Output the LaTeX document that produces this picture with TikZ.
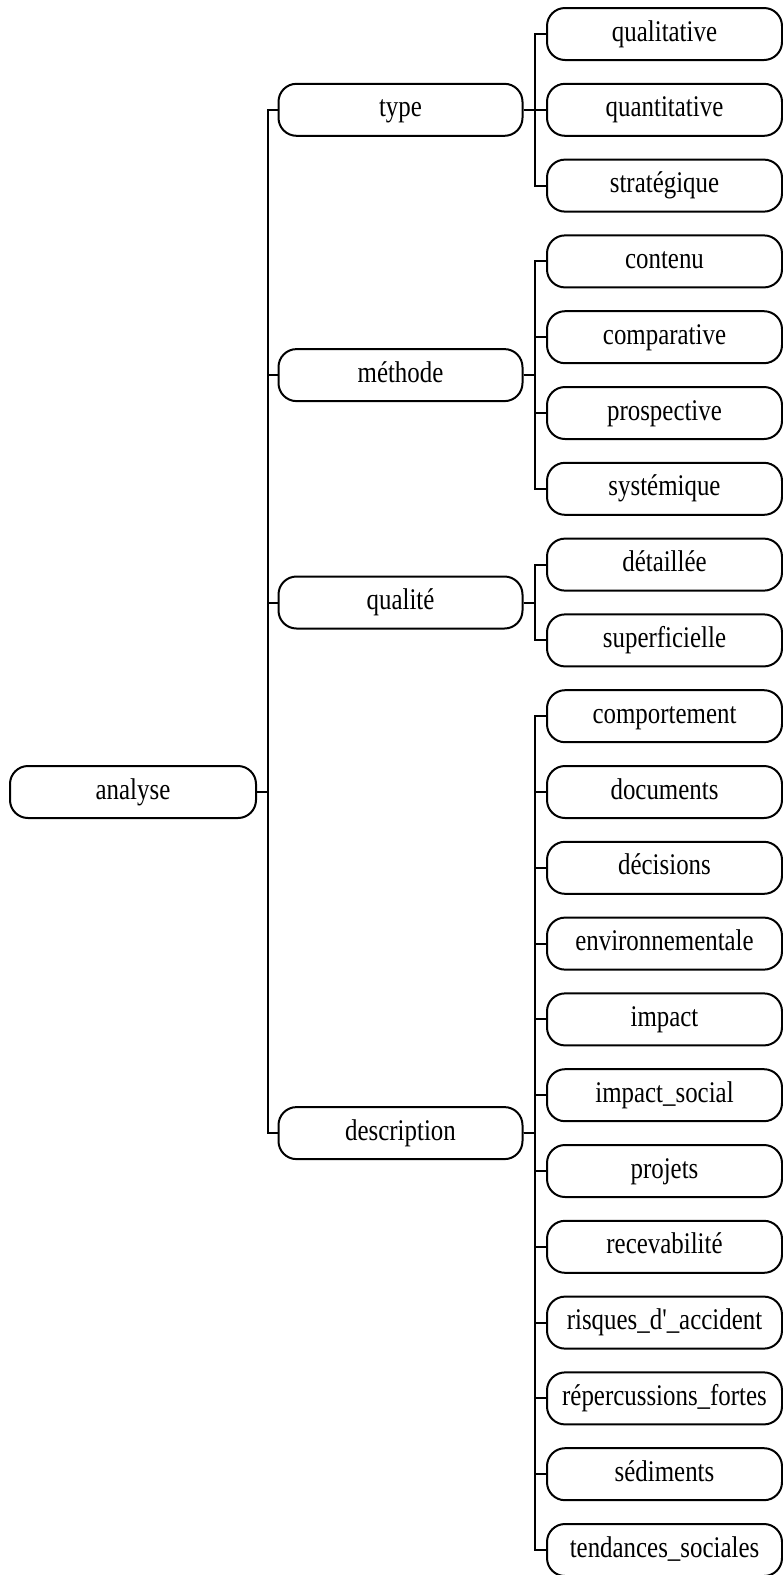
\documentclass[tikz,border=0pt]{standalone}
\usepackage{fontspec}
\usepackage{graphicx}
\setmainfont{Liberation Serif}
\newcommand{\nt}[1]{\scalebox{0.83}[1]{#1}}
\begin{document}
\begin{tikzpicture}[x=1pt,y=-1pt,
  box/.style={draw=black,line width=2pt,rounded corners=18pt,inner sep=0pt,
    minimum height=52pt,text height=21pt,text depth=7pt,
    font=\fontsize{30}{35}\selectfont},
  lvlbox/.style={box,minimum width=244pt},
  leafbox/.style={box,minimum width=235pt},
  conn/.style={draw=black,line width=2pt}]
\useasboundingbox (0,0) rectangle (783,1575);
\node[box,minimum width=246pt] (analyse) at (133,792) {\nt{analyse}};
\node[lvlbox] (type) at (400.5,109.8) {\nt{type}};
\node[lvlbox] (methode) at (400.5,375.1) {\nt{méthode}};
\node[lvlbox] (qualite) at (400.5,602.5) {\nt{qualité}};
\node[lvlbox] (description) at (400.5,1133.1) {\nt{description}};
\node[leafbox] (l0) at (664.5,34) {\nt{qualitative}};
\node[leafbox] (l1) at (664.5,109.8) {\nt{quantitative}};
\node[leafbox] (l2) at (664.5,185.6) {\nt{stratégique}};
\node[leafbox] (l3) at (664.5,261.4) {\nt{contenu}};
\node[leafbox] (l4) at (664.5,337.2) {\nt{comparative}};
\node[leafbox] (l5) at (664.5,413) {\nt{prospective}};
\node[leafbox] (l6) at (664.5,488.8) {\nt{systémique}};
\node[leafbox] (l7) at (664.5,564.6) {\nt{détaillée}};
\node[leafbox] (l8) at (664.5,640.4) {\nt{superficielle}};
\node[leafbox] (l9) at (664.5,716.2) {\nt{comportement}};
\node[leafbox] (l10) at (664.5,792) {\nt{documents}};
\node[leafbox] (l11) at (664.5,867.8) {\nt{décisions}};
\node[leafbox] (l12) at (664.5,943.6) {\nt{environnementale}};
\node[leafbox] (l13) at (664.5,1019.4) {\nt{impact}};
\node[leafbox] (l14) at (664.5,1095.2) {\nt{impact\_social}};
\node[leafbox] (l15) at (664.5,1171) {\nt{projets}};
\node[leafbox] (l16) at (664.5,1246.8) {\nt{recevabilité}};
\node[leafbox] (l17) at (664.5,1322.6) {\nt{risques\_d\textquotesingle\_accident}};
\node[leafbox] (l18) at (664.5,1398.4) {\nt{répercussions\_fortes}};
\node[leafbox] (l19) at (664.5,1474.2) {\nt{sédiments}};
\node[leafbox] (l20) at (664.5,1550) {\nt{tendances\_sociales}};
\foreach \c in {type,methode,qualite,description}
  \draw[conn] (analyse.east) -- ++(11,0) |- (\c.west);
\foreach \c in {l0,l1,l2}
  \draw[conn] (type.east) -- ++(11,0) |- (\c.west);
\foreach \c in {l3,l4,l5,l6}
  \draw[conn] (methode.east) -- ++(11,0) |- (\c.west);
\foreach \c in {l7,l8}
  \draw[conn] (qualite.east) -- ++(11,0) |- (\c.west);
\foreach \c in {l9,l10,l11,l12,l13,l14,l15,l16,l17,l18,l19,l20}
  \draw[conn] (description.east) -- ++(11,0) |- (\c.west);
\end{tikzpicture}
\end{document}
